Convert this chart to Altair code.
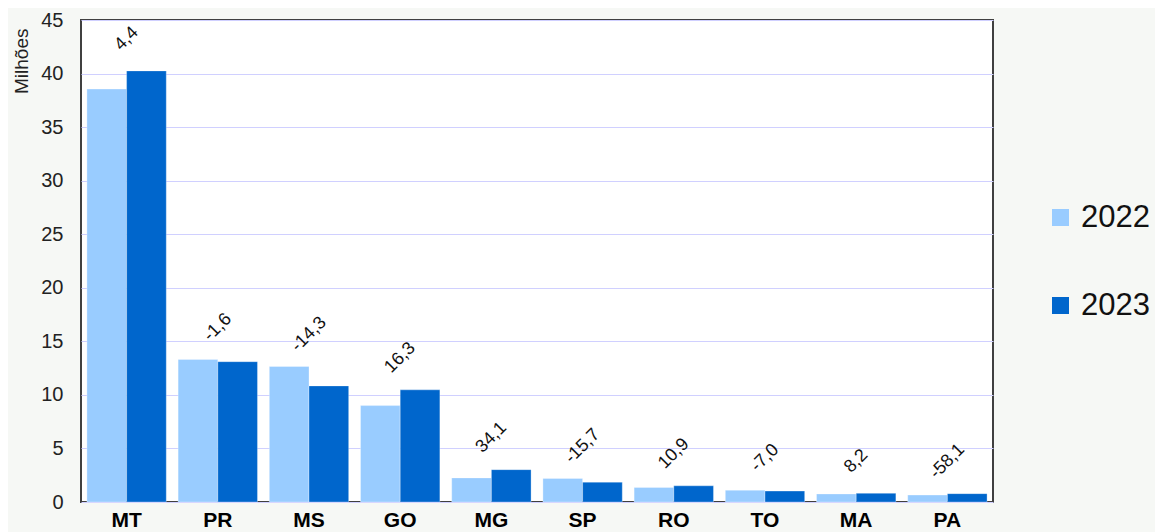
import altair as alt
import pandas as pd

states = ["MT", "PR", "MS", "GO", "MG", "SP", "RO", "TO", "MA", "PA"]
v2022 = [38.55, 13.30, 12.65, 9.00, 2.25, 2.20, 1.36, 1.10, 0.75, 0.65]
v2023 = [40.25, 13.10, 10.84, 10.47, 3.02, 1.85, 1.51, 1.02, 0.81, 0.78]
changes = ["4,4", "-1,6", "-14,3", "16,3", "34,1", "-15,7", "10,9", "-7,0", "8,2", "-58,1"]
years = ["2022", "2023"]
colors = ["#99ccff", "#0066cc"]

rows = []
for s, a, b in zip(states, v2022, v2023):
    rows.append({"estado": s, "ano": "2022", "valor": a})
    rows.append({"estado": s, "ano": "2023", "valor": b})
bars_df = pd.DataFrame(rows)

lab_df = pd.DataFrame({
    "estado": states,
    "topo": [max(a, b) for a, b in zip(v2022, v2023)],
    "var": changes,
})

FONT = "Liberation Sans"

x_enc = alt.X(
    "estado:N", sort=states, title=None,
    scale=alt.Scale(paddingInner=0.13, paddingOuter=0.065),
    axis=alt.Axis(labelAngle=0, labelFontSize=21, labelFontWeight="bold",
                  labelColor="#000000", labelFont=FONT, ticks=False,
                  domain=False, labelPadding=7),
)

y_scale = alt.Scale(domain=[0, 45], nice=False)

bars = alt.Chart(bars_df).mark_bar(stroke="#ffffff", strokeWidth=0.5, strokeOpacity=0.6).encode(
    x=x_enc,
    xOffset=alt.XOffset("ano:N", sort=years, scale=alt.Scale(paddingInner=0, paddingOuter=0)),
    y=alt.Y("valor:Q", scale=y_scale, title="Milhões",
            axis=alt.Axis(values=list(range(0, 46, 5)), labelFontSize=20, labelColor="#222222",
                          labelFont=FONT, ticks=False, domain=False, labelPadding=18,
                          gridColor="#d0d0ff", gridWidth=1.2,
                          titleFont=FONT, titleFontSize=19, titleFontWeight="normal",
                          titleColor="#222222", titleAngle=270, titleAlign="right",
                          titleBaseline="middle", titleX=-60, titleY=8)),
    color=alt.Color("ano:N", sort=years,
                    scale=alt.Scale(domain=years, range=colors),
                    legend=alt.Legend(title=None, orient="none", legendX=964, legendY=182,
                                      symbolType="square", symbolSize=289, symbolStrokeWidth=0,
                                      labelFontSize=31, labelFont=FONT, labelColor="#111111",
                                      labelOffset=5, rowPadding=56, padding=0)),
)

labels = alt.Chart(lab_df).transform_calculate(
    ly="datum.topo + 3.0"
).mark_text(angle=315, fontSize=18, font=FONT, color="#111111",
            align="center", baseline="middle").encode(
    x=alt.X("estado:N", sort=states),
    y=alt.Y("ly:Q", scale=y_scale),
    text="var:N",
)

chart = alt.layer(bars, labels).properties(
    width=912, height=482,
    background="#f6f8f5",
    autosize=alt.AutoSizeParams(type="none"),
    padding={"left": 73, "top": 12, "right": 162, "bottom": 30},
).configure_view(
    fill="#ffffff", stroke="#404040", strokeWidth=2
)

chart.save("out.html", embed_options={"renderer": "svg", "actions": False})
